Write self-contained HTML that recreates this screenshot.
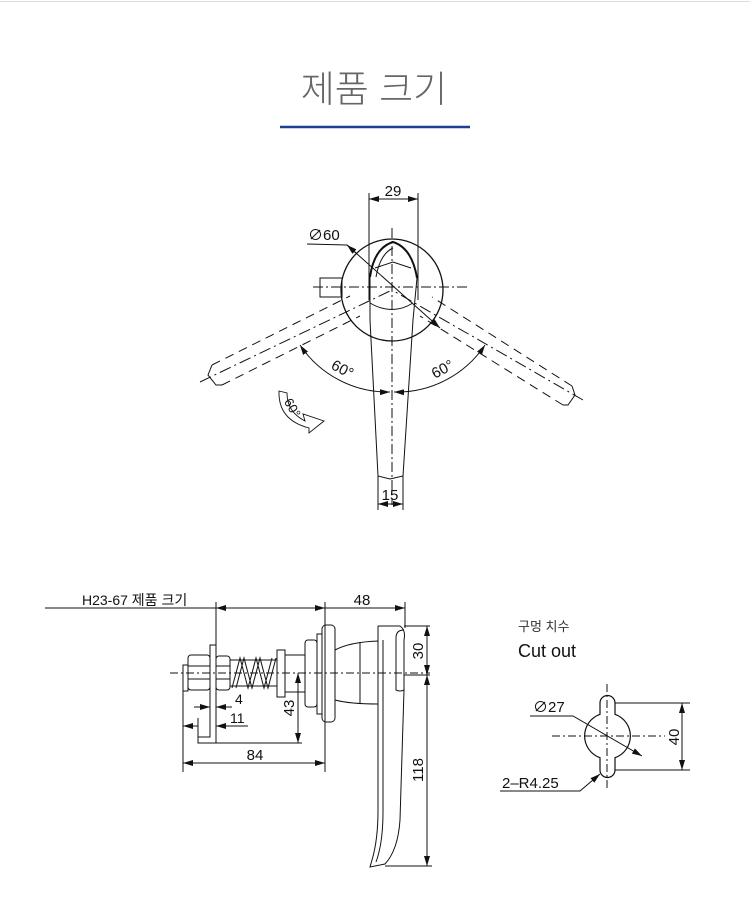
<!DOCTYPE html>
<html><head><meta charset="utf-8"><style>
html,body{margin:0;padding:0;background:#fff;}
body{width:750px;height:912px;overflow:hidden;}
svg text{font-family:"Liberation Sans","Noto Sans CJK KR",sans-serif;fill:#111;}
</style></head><body>
<svg width="750" height="912" viewBox="0 0 750 912" xmlns="http://www.w3.org/2000/svg">
<defs>
<marker id="a" viewBox="0 0 10 6" refX="10" refY="3" markerWidth="10" markerHeight="6" orient="auto-start-reverse" markerUnits="userSpaceOnUse"><path d="M0,0L10,3L0,6z" fill="#111"/></marker>
</defs>
<line x1="0" y1="1.5" x2="750" y2="1.5" stroke="#ddd" stroke-width="1"/>
<text x="374" y="102" text-anchor="middle" font-size="37" style="fill:#666;font-weight:300" font-family="'Noto Sans CJK KR',sans-serif">제품 크기</text>
<line x1="280" y1="127" x2="470" y2="127" stroke="#1c3f8f" stroke-width="2.5"/>

<g stroke="#111" fill="none" stroke-width="1">
<circle cx="392" cy="290" r="51" stroke-width="1.3"/>
<rect x="320" y="278" width="22" height="19"/>
<line x1="313" y1="287" x2="470" y2="287" stroke-dasharray="10,3,2,3"/>
<line x1="392" y1="228" x2="392" y2="505" stroke-dasharray="10,3,2,3"/>
<g stroke-dasharray="9,6">
<line x1="212" y1="365" x2="350" y2="296"/>
<line x1="222" y1="385" x2="360" y2="316"/>
<line x1="572" y1="386" x2="432" y2="297"/>
<line x1="563" y1="405" x2="420" y2="316"/>
</g>
<line x1="200" y1="382" x2="392" y2="290" stroke-dasharray="12,4,2,4"/>
<line x1="583" y1="400" x2="392" y2="290" stroke-dasharray="12,4,2,4"/>
<path d="M212,365 L208,375 L216,385 L222,385"/>
<path d="M572,386 L575,395 L568,405 L563,405"/>
<path d="M370,277 Q374,248 393,242 Q412,248 417,278" stroke-width="2"/>
<path d="M376,277 Q380,254 393,248" />
<path d="M370,277 L370,320 L378,476 L390,479 L403,476 L413,320 L417,278"/>
<path d="M370,303 Q392,316 413,303"/>
<path d="M375,268 L393,262 L411,268"/>
<line x1="369" y1="193" x2="369" y2="300"/><line x1="418" y1="193" x2="418" y2="300"/>
<line x1="369" y1="199" x2="418" y2="199" marker-start="url(#a)" marker-end="url(#a)"/>
<line x1="378" y1="476" x2="378" y2="510"/><line x1="403" y1="476" x2="403" y2="510"/>
<line x1="378" y1="504" x2="403" y2="504" marker-start="url(#a)" marker-end="url(#a)"/>
<polyline points="307,244 347,245 440,328" marker-end="url(#a)"/>
<line x1="347" y1="245" x2="356" y2="253" marker-start="url(#a)"/>
<path d="M300,345 A106,106 0 0 0 390,392" marker-start="url(#a)" marker-end="url(#a)"/>
<path d="M485,345 A106,106 0 0 1 394,392" marker-start="url(#a)" marker-end="url(#a)"/>
<path d="M279,391 L287,393 Q287,412 305,421 L303,414 L324,421 L309,433 L309,428 Q278,420 279,391 Z" stroke-width="0.9"/>
</g>
<text x="393" y="196" text-anchor="middle" font-size="15">29</text>
<text x="390" y="500" text-anchor="middle" font-size="15">15</text>
<text x="308" y="240" font-size="15">∅60</text>
<text x="342" y="374" text-anchor="middle" font-size="15" transform="rotate(28 342 370)">60°</text>
<text x="443" y="374" text-anchor="middle" font-size="15" transform="rotate(-28 443 370)">60°</text>
<text x="292" y="412" text-anchor="middle" font-size="13" transform="rotate(60 292 408)">60°</text>

<g stroke="#111" fill="none" stroke-width="1">
<line x1="45" y1="608" x2="216" y2="608"/>
<line x1="216" y1="608" x2="325" y2="608" marker-start="url(#a)" marker-end="url(#a)"/>
<line x1="325" y1="608" x2="405" y2="608" marker-end="url(#a)"/>
<line x1="216" y1="602" x2="216" y2="645"/>
<line x1="325" y1="602" x2="325" y2="772"/>
<line x1="405" y1="602" x2="405" y2="628"/>
<line x1="170" y1="673" x2="430" y2="673" stroke-dasharray="8,3,2,3"/>
<path d="M210,645 L216,645 L216,743 L198,743 L198,737 L210,737 Z"/>
<rect x="183" y="665" width="5" height="26"/>
<rect x="188" y="655" width="22" height="35" rx="3"/>
<line x1="188" y1="666" x2="210" y2="666"/><line x1="188" y1="679" x2="210" y2="679"/>
<rect x="216" y="656" width="14" height="34" rx="3"/>
<line x1="216" y1="666" x2="230" y2="666"/><line x1="216" y1="679" x2="230" y2="679"/>
<line x1="230" y1="660" x2="277" y2="660"/><line x1="230" y1="686" x2="277" y2="686"/>
<path d="M232,688 L240,658 L248,688 L256,658 L264,688 L272,658"/>
<path d="M236,688 L244,658 L252,688 L260,658 L268,688 L276,658"/>
<rect x="277" y="650" width="8" height="47"/>
<rect x="285" y="655" width="20" height="37"/>
<rect x="305" y="640" width="12" height="67" rx="3"/>
<rect x="317" y="634" width="5" height="80"/>
<rect x="322" y="625" width="13" height="97" rx="4"/>
<path d="M335,650 Q350,642 378,641 L378,704 Q350,704 335,700"/>
<line x1="360" y1="642" x2="360" y2="704"/>
<path d="M378,626 L400,626 Q406,630 404,640 L404,690 Q400,692 396,690 L396,638 Q396,630 404,630"/>
<path d="M378,626 L378,810 Q378,840 372,860 L370,867 L385,864 Q398,850 400,820 L404,690"/>
<path d="M383,640 L383,812 Q383,843 376,862"/>
<line x1="404" y1="626" x2="430" y2="626"/><line x1="404" y1="675" x2="430" y2="675"/><line x1="385" y1="866" x2="432" y2="866"/>
<line x1="427" y1="626" x2="427" y2="675" marker-start="url(#a)" marker-end="url(#a)"/>
<line x1="427" y1="675" x2="427" y2="866" marker-start="url(#a)" marker-end="url(#a)"/>
<line x1="198" y1="743" x2="302" y2="743"/>
<line x1="298" y1="673" x2="298" y2="743" marker-start="url(#a)" marker-end="url(#a)"/>
<line x1="183" y1="691" x2="183" y2="772"/><line x1="198" y1="718" x2="198" y2="737"/>
<line x1="194" y1="707" x2="210" y2="707" marker-end="url(#a)"/>
<line x1="216" y1="707" x2="232" y2="707" marker-start="url(#a)"/>
<line x1="183" y1="726" x2="198" y2="726" marker-start="url(#a)"/>
<line x1="216" y1="726" x2="248" y2="726" marker-start="url(#a)"/>
<line x1="183" y1="763" x2="325" y2="763" marker-start="url(#a)" marker-end="url(#a)"/>
</g>
<text x="82" y="605" font-size="14">H23-67 제품 크기</text>
<text x="362" y="605" text-anchor="middle" font-size="15">48</text>
<text x="235" y="704" font-size="14">4</text>
<text x="230" y="723" font-size="14">11</text>
<text x="255" y="760" text-anchor="middle" font-size="15">84</text>
<text x="0" y="0" font-size="15" text-anchor="middle" transform="translate(294,708) rotate(-90)">43</text>
<text x="0" y="0" font-size="15" text-anchor="middle" transform="translate(423,651) rotate(-90)">30</text>
<text x="0" y="0" font-size="15" text-anchor="middle" transform="translate(423,770) rotate(-90)">118</text>

<text x="518" y="631" font-size="13" style="fill:#333">구멍 치수</text>
<text x="518" y="657" font-size="18">Cut out</text>
<g stroke="#111" fill="none" stroke-width="1">
<path d="M600,714.3 L600,703 A7.5,7.5 0 0 1 615,703 L615,714.3 A23,23 0 0 1 615,757.7 L615,770 A7.5,7.5 0 0 1 600,770 L600,757.7 A23,23 0 0 1 600,714.3 Z" stroke-width="1.2"/>
<line x1="607" y1="684" x2="607" y2="790" stroke-dasharray="8,3,2,3"/>
<line x1="552" y1="736" x2="665" y2="736" stroke-dasharray="8,3,2,3"/>
<line x1="615" y1="703" x2="690" y2="703"/><line x1="615" y1="770" x2="690" y2="770"/>
<line x1="682" y1="703" x2="682" y2="770" marker-start="url(#a)" marker-end="url(#a)"/>
<polyline points="530,716 573,716 642,756" marker-end="url(#a)"/>
<polyline points="500,791 580,791 600,774" marker-end="url(#a)"/>
</g>
<text x="533" y="712" font-size="15">∅27</text>
<text x="502" y="788" font-size="15">2–R4.25</text>
<text x="0" y="0" font-size="15" text-anchor="middle" transform="translate(679,737) rotate(-90)">40</text>
</svg>
</body></html>
